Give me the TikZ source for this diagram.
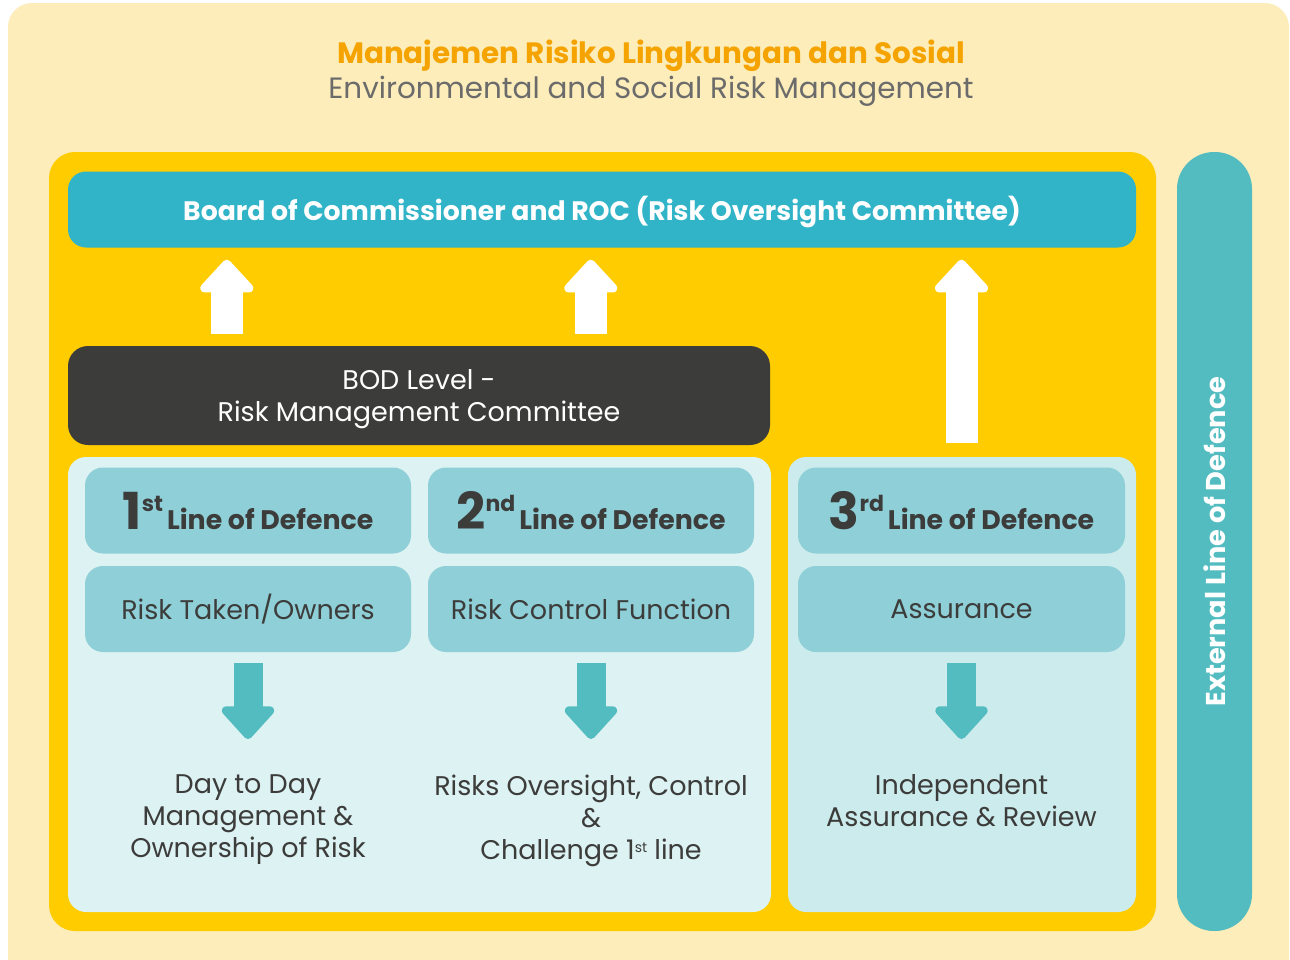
\documentclass[tikz,border=0pt]{standalone}
\usepackage{fontspec}
\setmainfont{Poppins}
\usetikzlibrary{calc,arrows.meta}
\definecolor{cream}{HTML}{FDEDBA}
\definecolor{gold}{HTML}{FFCC00}
\definecolor{orangeT}{HTML}{F5A300}
\definecolor{grayT}{HTML}{6B6B6B}
\definecolor{boardc}{HTML}{31B3C8}
\definecolor{darkc}{HTML}{3C3C3B}
\definecolor{panelL}{HTML}{DDF2F3}
\definecolor{panelR}{HTML}{CCEBEC}
\definecolor{hdr}{HTML}{8ECFD8}
\definecolor{tealc}{HTML}{52BCC0}
\newcommand{\fsz}[1]{\fontsize{#1}{#1}\selectfont}
\begin{document}
\begin{tikzpicture}[x=1pt,y=-1pt,
  box/.style={inner sep=0pt, align=center, rounded corners=18pt},
  hdrbox/.style={box, fill=hdr, minimum width=326pt, minimum height=86pt, text=darkc},
  subbox/.style={box, fill=hdr, minimum width=326pt, minimum height=86pt, text=darkc, font=\fsz{27}},
  bottxt/.style={align=center, text=darkc, font=\fontsize{27}{32}\selectfont, anchor=north},
  uparrow/.style={draw=white, line width=32pt, -{Triangle[width=62pt,length=35pt,round]}},
  downarrow/.style={draw=tealc, line width=29pt, -{Triangle[width=61pt,length=35pt,round]}},
]
\useasboundingbox (0,0) rectangle (1290,959);
\fill[white] (0,0) rectangle (1290,959);
\fill[cream, rounded corners=24pt] (8,3) rectangle (1289,1000);

% titles
\node[text=orangeT, font=\fsz{29.4}\bfseries] (t1) at (651,56) {Manajemen Risiko Lingkungan dan Sosial};
\node[text=grayT, font=\fsz{29.4}] (t2) at (651,91) {Environmental and Social Risk Management};

% main panel
\node[box, fill=gold, rounded corners=26pt, minimum width=1107pt, minimum height=779pt] (main) at (602.5,541.5) {};

% board
\node[box, fill=boardc, minimum width=1068pt, minimum height=76pt, text=white, font=\fsz{26.7}\bfseries] (board) at (602,209.5)
  {\raisebox{-2pt}[\height][\depth]{Board of Commissioner and ROC (Risk Oversight Committee)}};

% BOD
\node[box, fill=darkc, rounded corners=20pt, minimum width=702pt, minimum height=99pt, text=white, font=\fontsize{27}{32}\selectfont] (bod) at (419,395.5)
  {\raisebox{-4pt}[\height][\depth]{\parbox{680pt}{\centering BOD Level -\\Risk Management Committee}}};

% panels
\node[box, fill=panelL, minimum width=703pt, minimum height=455pt] (pl) at (419.5,684.5) {};
\node[box, fill=panelR, minimum width=348pt, minimum height=455pt] (pr) at (962,684.5) {};

% headers
\node[hdrbox] (h1) at (248,510.5)
  {\bfseries{\fsz{51}1}\raisebox{18pt}{\fsz{22}st}\hspace{4pt}{\fsz{26.8}Line of Defence}};
\node[hdrbox] (h2) at (591,510.5)
  {\bfseries{\fsz{51}2}\raisebox{18pt}{\fsz{22}nd}\hspace{4pt}{\fsz{26.8}Line of Defence}};
\node[hdrbox, minimum width=327pt] (h3) at (961.5,510.5)
  {\bfseries{\fsz{51}3}\raisebox{18pt}{\fsz{22}rd}\hspace{4pt}{\fsz{26.8}Line of Defence}};

% sub headers
\node[subbox] (s1) at (248,609) {Risk Taken/Owners};
\node[subbox] (s2) at (591,609) {Risk Control Function};
\node[subbox, minimum width=327pt] (s3) at (961.5,609) {Assurance};

% bottom texts
\node[bottxt] (b1) at (248,771) {Day to Day\\Management \&\\Ownership of Risk};
\node[bottxt] (b2) at (591,771) {Risks Oversight, Control\\\&\\Challenge 1\raisebox{7pt}{\fsz{14}st} line};
\node[bottxt] (b3) at (961.5,771) {Independent\\Assurance \& Review};

% external bar
\node[box, fill=tealc, rounded corners=37pt, minimum width=75pt, minimum height=779pt] (ext) at (1214.5,541.5) {};
\node[rotate=90, text=white, font=\fsz{27.2}\bfseries] (extt) at (1214.5,541.5) {External Line of Defence};

% up arrows
\draw[uparrow] ($(bod.north west)+(159,-12)$) -- ($(board.south west)+(159,12)$);
\draw[uparrow] ($(bod.north west)+(523,-12)$) -- ($(board.south west)+(523,12)$);
\draw[uparrow] ($(h3.north)+(0,-24)$) -- ($(board.south -| h3.north)+(0,12)$);

% down arrows
\draw[downarrow] ($(s1.south)+(0,11)$) -- ($(b1.north)+(0,-32)$);
\draw[downarrow] ($(s2.south)+(0,11)$) -- ($(b2.north)+(0,-32)$);
\draw[downarrow] ($(s3.south)+(0,11)$) -- ($(b3.north)+(0,-32)$);
\end{tikzpicture}
\end{document}
